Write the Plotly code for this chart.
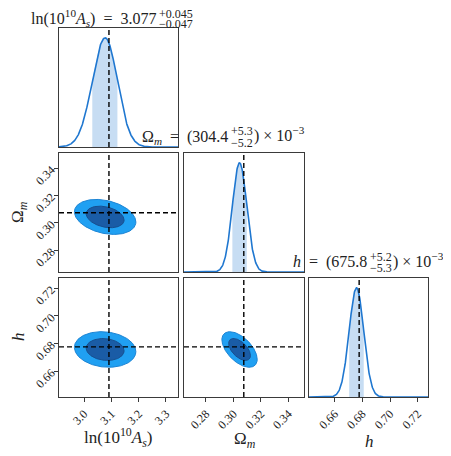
import numpy as np
import plotly.graph_objects as go

# ---- data ----
param_names = ['lnAs', 'Om', 'h']
medians = [3.077, 0.3044, 0.6758]
err_minus = [0.047, 0.0052, 0.0053]
err_plus = [0.045, 0.0053, 0.0052]
truths = [3.091, 0.3075, 0.6777]
# correlation for the off-diagonal pairs (row, col)
pair_rho = {(1, 0): -0.29, (2, 0): -0.12, (2, 1): -0.55}
cred_levels = [0.68, 0.95]

axis_ranges = [[2.908, 3.344], [0.264, 0.3513], [0.6415, 0.7274]]
tick_vals = [[3.0, 3.1, 3.2, 3.3], [0.28, 0.30, 0.32, 0.34], [0.66, 0.68, 0.70, 0.72]]
tick_text = [['3.0', '3.1', '3.2', '3.3'], ['0.28', '0.30', '0.32', '0.34'],
             ['0.66', '0.68', '0.70', '0.72']]

# page is 451x456 but the body keeps its default 8px margin
OFF = 8
W, H = 451 - OFF, 456 - OFF
col_px = [(59, 178), (184, 304), (309, 428)]
row_px = [(28, 147), (153, 272), (278, 397)]

FONT = 'Liberation Serif'
line_blue = '#1f77d0'
band_blue = 'rgba(31,119,208,0.25)'
outer_fill = '#20a0f2'
outer_line = '#1c84d4'
inner_fill = '#1a5ca6'
inner_line = '#174f8f'
frame = '#3a3a3a'
truth_line = dict(color='black', width=1.4, dash='5px,3px')


def px_x(p):
    return (p - OFF) / W


def px_y(p):
    return 1 - (p - OFF) / H


panels = [(0, 0), (1, 0), (1, 1), (2, 0), (2, 1), (2, 2)]
fig = go.Figure()
layout = dict(
    width=W, height=H, margin=dict(l=0, r=0, t=0, b=0),
    paper_bgcolor='white', plot_bgcolor='white', showlegend=False,
    font=dict(family=FONT, size=12, color='#222'),
)

for k, (r, c) in enumerate(panels, start=1):
    xa, ya = 'x%d' % k, 'y%d' % k
    diag = r == c
    layout['xaxis%d' % k] = dict(
        domain=[px_x(col_px[c][0]), px_x(col_px[c][1])], anchor=ya,
        range=axis_ranges[c], tickvals=tick_vals[c], ticktext=tick_text[c],
        showticklabels=(r == 2), ticks='outside' if r == 2 else '', ticklen=4,
        tickcolor=frame, tickangle=-45, showgrid=False, zeroline=False,
        showline=True, mirror=True, linecolor=frame, linewidth=1.3,
        tickfont=dict(family=FONT, size=12),
    )
    if diag:
        ydict = dict(range=[0, 1.09], showticklabels=False, ticks='')
    else:
        ydict = dict(range=axis_ranges[r], tickvals=tick_vals[r], ticktext=tick_text[r],
                     showticklabels=(c == 0), ticks='outside' if c == 0 else '',
                     ticklen=4, tickcolor=frame, tickangle=-45)
    ydict.update(domain=[px_y(row_px[r][1]), px_y(row_px[r][0])], anchor=xa,
                 showgrid=False, zeroline=False, showline=True, mirror=True,
                 linecolor=frame, linewidth=1.3, tickfont=dict(family=FONT, size=12))
    layout['yaxis%d' % k] = ydict

    if diag:
        m, sm, sp = medians[c], err_minus[c], err_plus[c]
        xs = np.linspace(axis_ranges[c][0], axis_ranges[c][1], 400)
        sig = np.where(xs < m, sm, sp)
        dens = np.exp(-0.5 * ((xs - m) / sig) ** 2)
        lo, hi = m - sm, m + sp
        sel = (xs >= lo) & (xs <= hi)
        bx = np.concatenate([[lo], xs[sel], [hi]])
        bs = np.where(bx < m, sm, sp)
        by = np.exp(-0.5 * ((bx - m) / bs) ** 2)
        fig.add_trace(go.Scatter(x=bx, y=by, fill='tozeroy', mode='none',
                                 fillcolor=band_blue, xaxis=xa, yaxis=ya))
        fig.add_trace(go.Scatter(x=xs, y=dens, mode='lines',
                                 line=dict(color=line_blue, width=1.6), xaxis=xa, yaxis=ya))
        fig.add_trace(go.Scatter(x=[truths[c], truths[c]], y=[0, 1.09], mode='lines',
                                 line=truth_line, xaxis=xa, yaxis=ya))
    else:
        rho = pair_rho[(r, c)]
        mx, my = medians[c], medians[r]
        sx = 0.5 * (err_minus[c] + err_plus[c])
        sy = 0.5 * (err_minus[r] + err_plus[r])
        t = np.linspace(0, 2 * np.pi, 200)
        for lev, fc, lc in [(cred_levels[1], outer_fill, outer_line),
                            (cred_levels[0], inner_fill, inner_line)]:
            rad = np.sqrt(-2 * np.log(1 - lev))
            ex = mx + rad * sx * np.cos(t)
            ey = my + rad * sy * (rho * np.cos(t) + np.sqrt(1 - rho ** 2) * np.sin(t))
            fig.add_trace(go.Scatter(x=ex, y=ey, fill='toself', mode='lines',
                                     fillcolor=fc, line=dict(color=lc, width=1),
                                     xaxis=xa, yaxis=ya))
        fig.add_trace(go.Scatter(x=[truths[c], truths[c]], y=axis_ranges[r], mode='lines',
                                 line=truth_line, xaxis=xa, yaxis=ya))
        fig.add_trace(go.Scatter(x=axis_ranges[c], y=[truths[r], truths[r]], mode='lines',
                                 line=truth_line, xaxis=xa, yaxis=ya))

fig.update_layout(**layout)
fig.update_traces(hoverinfo='skip')


def note(text, x, y, size=16, xanchor='center', yanchor='middle', angle=0):
    fig.add_annotation(text=text, x=px_x(x), y=px_y(y), xref='paper', yref='paper',
                       showarrow=False, xanchor=xanchor, yanchor=yanchor, textangle=angle,
                       borderpad=0, font=dict(family=FONT, size=size, color='#222'))


EQ = '\u2002=\u2002'
# titles with stacked errors
note('ln(10<sup>10</sup><i>A</i><sub><i>s</i></sub>)' + EQ + '3.077', 157, 18, xanchor='right')
note('+0.045', 158, 14, size=12, xanchor='left')
note('\u22120.047', 158, 24.5, size=12, xanchor='left')

note('\u03a9<sub><i>m</i></sub>' + EQ + '(304.4', 229, 137, xanchor='right')
note('+5.3', 230, 131.5, size=12, xanchor='left')
note('\u22125.2', 230, 142.5, size=12, xanchor='left')
note(') \u00d7 10<sup>\u22123</sup>', 253, 135, xanchor='left')

note('<i>h</i>' + EQ + '(675.8', 368, 262, xanchor='right')
note('+5.2', 369, 256.5, size=12, xanchor='left')
note('\u22125.3', 369, 267.5, size=12, xanchor='left')
note(') \u00d7 10<sup>\u22123</sup>', 392, 260, xanchor='left')

# axis labels
note('ln(10<sup>10</sup><i>A</i><sub><i>s</i></sub>)', 118, 437, size=17)
note('\u03a9<sub><i>m</i></sub>', 245, 440, size=17)
note('<i>h</i>', 369, 441, size=17)
note('\u03a9<sub><i>m</i></sub>', 19, 212, size=17, angle=-90)
note('<i>h</i>', 18, 337, size=17, angle=-90)

fig.write_html("out.html")
